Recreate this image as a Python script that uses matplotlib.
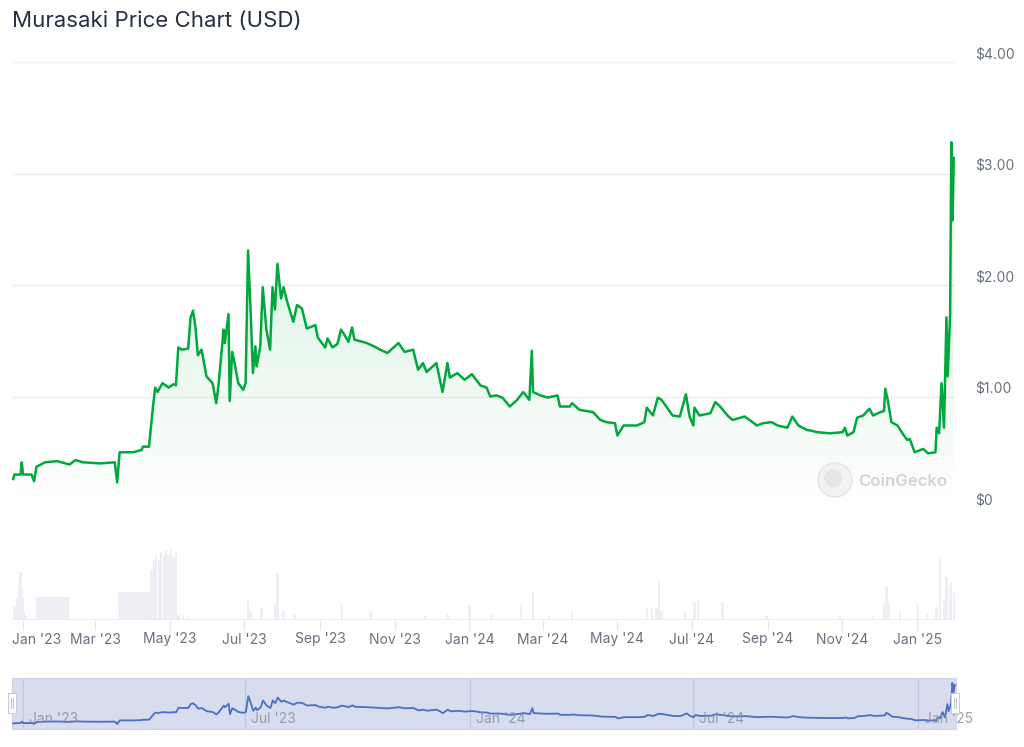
import matplotlib
matplotlib.use("Agg")
import matplotlib.pyplot as plt
import matplotlib.dates as mdates
from matplotlib.patches import Rectangle, Ellipse
from matplotlib.lines import Line2D
from matplotlib.transforms import ScaledTranslation, blended_transform_factory
import numpy as np

plt.rcParams["font.family"] = ["Inter", "DejaVu Sans"]

START = np.datetime64("2023-01-01")

# price (days since 2023-01-01, USD)
price_days = [
    -8, -7, -2, -1, 0, 7, 9, 11, 18, 28, 38, 43, 49, 63, 75, 77, 79, 90, 97, 98,
    103, 106, 108, 110, 114, 119, 123, 125, 127, 130, 135, 137, 139, 141, 143, 146,
    150, 155, 158, 160, 164, 165, 168, 169, 171, 173, 176, 180, 182, 184, 186, 188,
    190, 191, 194, 196, 199, 202, 204, 206, 208, 211, 213, 216, 221, 224, 228, 232,
    239, 241, 247, 249, 253, 257, 260, 263, 266, 269, 271, 281, 287, 292, 298, 303,
    307, 312, 319, 323, 327, 330, 338, 343, 347, 349, 355, 361, 367, 374, 379, 382,
    387, 392, 398, 404, 409, 414, 416, 417, 423, 429, 437, 439, 447, 449, 455, 466,
    472, 477, 484, 486, 491, 502, 508, 510, 515, 519, 522, 526, 531, 537, 542, 545,
    548, 549, 553, 562, 566, 570, 576, 580, 590, 594, 600, 605, 612, 617, 625, 629,
    634, 641, 646, 649, 660, 670, 672, 674, 679, 682, 687, 692, 695, 701, 704, 705,
    707, 710, 715, 719, 723, 725, 729, 736, 740, 746, 747, 749, 751, 753, 755, 756,
    758, 759, 760, 761,
]
prices = [
    0.26, 0.30, 0.30, 0.41, 0.30, 0.30, 0.24, 0.37, 0.41, 0.42, 0.39, 0.43, 0.41, 0.40, 0.41, 0.23, 0.50, 0.50, 0.52, 0.55,
    0.55, 0.88, 1.08, 1.04, 1.12, 1.08, 1.11, 1.10, 1.44, 1.42, 1.43, 1.71, 1.77, 1.62, 1.37, 1.42,
    1.18, 1.12, 0.94, 1.12, 1.60, 1.48, 1.74, 0.96, 1.40, 1.30, 1.12, 1.06, 1.12, 2.31, 1.80, 1.21,
    1.45, 1.27, 1.45, 1.98, 1.60, 1.42, 1.98, 1.78, 2.19, 1.88, 1.98, 1.85, 1.67, 1.82, 1.79, 1.61,
    1.64, 1.53, 1.44, 1.52, 1.44, 1.47, 1.60, 1.55, 1.49, 1.62, 1.51, 1.48, 1.45, 1.42, 1.39, 1.44,
    1.48, 1.40, 1.42, 1.24, 1.30, 1.22, 1.30, 1.04, 1.30, 1.17, 1.21, 1.15, 1.20, 1.10, 1.08, 1.00,
    1.01, 0.99, 0.91, 0.97, 1.04, 0.97, 1.41, 1.04, 1.01, 0.99, 1.01, 0.91, 0.91, 0.94, 0.88, 0.86,
    0.79, 0.77, 0.76, 0.65, 0.74, 0.74, 0.77, 0.90, 0.83, 0.99, 0.97, 0.91, 0.83, 0.82, 1.02, 0.82,
    0.74, 0.90, 0.83, 0.85, 0.95, 0.91, 0.83, 0.79, 0.82, 0.79, 0.74, 0.76, 0.77, 0.74, 0.72, 0.82,
    0.74, 0.70, 0.69, 0.68, 0.67, 0.68, 0.72, 0.65, 0.68, 0.81, 0.83, 0.89, 0.83, 0.86, 0.87, 1.07,
    0.97, 0.77, 0.74, 0.67, 0.61, 0.62, 0.50, 0.53, 0.49, 0.50, 0.72, 0.67, 1.12, 0.72, 1.71, 1.18,
    1.73, 3.28, 2.58, 3.14,
]

# volume (relative height), single bars
vol_days = [
    -7, -5, -3, -2, -1, 0, 1, 2,
    105, 107, 109, 111, 113, 115, 117, 119, 121, 123, 125, 127, 131, 135,
    184, 186, 195, 206, 208, 213, 222, 261, 284, 329, 347, 365, 383,
    407, 417, 430, 449, 510, 514, 518, 520, 522, 541, 549, 552, 572, 608,
    668, 695, 704, 706, 708, 717, 732, 739, 747, 750, 753, 755, 758, 759, 761,
]
vol_vals = [
    0.20, 0.30, 0.50, 0.67, 0.45, 0.30, 0.12, 0.05,
    0.70, 0.83, 0.90, 0.83, 0.95, 0.90, 0.97, 0.90, 0.97, 0.88, 0.95, 0.07, 0.05, 0.04,
    0.28, 0.12, 0.16, 0.22, 0.65, 0.12, 0.07, 0.21, 0.12, 0.05, 0.09, 0.21, 0.07,
    0.21, 0.39, 0.07, 0.12, 0.16, 0.16, 0.16, 0.53, 0.12, 0.12, 0.25, 0.28, 0.25, 0.05,
    0.05, 0.05, 0.23, 0.46, 0.23, 0.12, 0.21, 0.09, 0.18, 0.88, 0.28, 0.60, 0.46, 0.53, 0.37,
]
# flat volume blocks
vol_block_start = [11, 78]
vol_block_end = [38, 104]
vol_block_vals = [0.32, 0.39]

tick_dates = ["2023-01-01", "2023-03-01", "2023-05-01", "2023-07-01", "2023-09-01",
              "2023-11-01", "2024-01-01", "2024-03-01", "2024-05-01", "2024-07-01",
              "2024-09-01", "2024-11-01", "2025-01-01"]
tick_labels = ["Jan '23", "Mar '23", "May '23", "Jul '23", "Sep '23", "Nov '23",
               "Jan '24", "Mar '24", "May '24", "Jul '24", "Sep '24", "Nov '24", "Jan '25"]
nav_dates = ["2023-01-01", "2023-07-01", "2024-01-01", "2024-07-01", "2025-01-01"]
nav_labels = ["Jan '23", "Jul '23", "Jan '24", "Jul '24", "Jan '25"]
y_ticks = [0, 1, 2, 3, 4]
y_labels = ["$0", "$1.00", "$2.00", "$3.00", "$4.00"]

GREEN = "#00a83e"
GRID = "#eceef2"
LABEL = "#68707f"
VOL = "#edeff4"
W, H = 1024, 747


def days_to_dates(d):
    return START + np.array(d).astype("timedelta64[D]")


dates = days_to_dates(price_days)
x0 = START - np.timedelta64(9, "D")
x1 = START + np.timedelta64(762, "D")

fig = plt.figure(figsize=(W / 100, H / 100), dpi=100)
fig.patch.set_facecolor("white")

ax = fig.add_axes([12 / W, 1 - 508 / H, 943 / W, 446 / H])
ax_vol = fig.add_axes([12 / W, 1 - 620 / H, 943 / W, 72 / H])
ax_nav = fig.add_axes([12 / W, 1 - 729 / H, 944 / W, 51 / H])

# ---- main price chart
for v in y_ticks:
    ax.axhline(v, color=GRID, lw=1, zorder=0)

ax.plot(dates, prices, color=GREEN, lw=1.8, zorder=4, solid_joinstyle="round")
poly = ax.fill_between(dates, prices, 0, facecolor="none", edgecolor="none")

grad = np.zeros((256, 1, 4))
grad[:, :, :3] = matplotlib.colors.to_rgb(GREEN)
grad[:, 0, 3] = np.linspace(0.0, 0.24, 256)
x0n, x1n = mdates.date2num(x0), mdates.date2num(x1)
im = ax.imshow(grad, extent=[x0n, x1n, 0, 4], aspect="auto", origin="lower", zorder=1)
im.set_clip_path(poly.get_paths()[0], transform=ax.transData)

ax.set_xlim(x0, x1)
ax.set_ylim(0, 4)
for s in ax.spines.values():
    s.set_visible(False)
ax.set_xticks([])
ax.set_yticks([])

ytr = blended_transform_factory(ax.transAxes, ax.transData)
for v, lab in zip(y_ticks, y_labels):
    ax.annotate(lab, xy=(1, v), xycoords=ytr, xytext=(14.4, 5.5), textcoords="offset points",
                ha="left", va="center", fontsize=10, color=LABEL)

# watermark
fig.add_artist(Ellipse((835 / W, 1 - 480 / H), 34 / W, 34 / H, transform=fig.transFigure,
                       facecolor="#f3f3f3", edgecolor="#e4e4e4", lw=1, zorder=5))
fig.add_artist(Ellipse((833 / W, 1 - 478 / H), 18 / W, 18 / H, transform=fig.transFigure,
                       facecolor="#e6e6e6", edgecolor="none", zorder=6))
fig.text(858 / W, 1 - 481 / H, "CoinGecko", fontsize=12, color="#d3d3d3",
         fontweight="semibold", va="center", ha="left")

# ---- volume
ax_vol.bar(days_to_dates(vol_days), vol_vals, width=1.9, color=VOL, linewidth=0)
for s0, s1, v in zip(vol_block_start, vol_block_end, vol_block_vals):
    ax_vol.bar(days_to_dates([s0])[0], v, width=s1 - s0, align="edge", color=VOL, linewidth=0)
ax_vol.set_xlim(x0, x1)
ax_vol.set_ylim(0, 1)
for s in ax_vol.spines.values():
    s.set_visible(False)
ax_vol.axhline(0, color="#e8eaee", lw=1.2)
ax_vol.set_yticks([])
ax_vol.set_xticks(np.array(tick_dates, dtype="datetime64[D]"))
ax_vol.set_xticklabels(tick_labels)
ax_vol.tick_params(axis="x", length=7, width=1, color="#e6e8ec", pad=2, labelsize=10, labelcolor=LABEL)
first = ax_vol.get_xticklabels()[0]
first.set_transform(first.get_transform() + ScaledTranslation(0.14, 0, fig.dpi_scale_trans))

# ---- navigator
ax_nav.set_facecolor("#d7ddef")
ax_nav.plot(dates, prices, color="#4a6fc3", lw=1.3, zorder=3)
ax_nav.set_xlim(x0, x1)
ax_nav.set_ylim(-0.14, 3.65)
for s in ax_nav.spines.values():
    s.set_color("#cdd3e4")
    s.set_linewidth(0.8)
ax_nav.set_xticks([])
ax_nav.set_yticks([])
ntr = blended_transform_factory(ax_nav.transData, ax_nav.transAxes)
for d, lab in zip(np.array(nav_dates, dtype="datetime64[D]"), nav_labels):
    ax_nav.axvline(d, color="#bfc7db", lw=0.8, zorder=1)
    ax_nav.annotate(lab, xy=(d, 0.2), xycoords=ntr, xytext=(4.5, 0), textcoords="offset points",
                    ha="left", va="center", fontsize=10, color="#8a909b", alpha=0.85,
                    zorder=4, annotation_clip=False)

for hx in (12, 955):
    fig.add_artist(Rectangle(((hx - 4) / W, 1 - 713 / H), 8 / W, 20 / H, transform=fig.transFigure,
                             facecolor="white", edgecolor="#c9ccd3", lw=0.8, zorder=10))
    for dx in (-1.2, 1.2):
        fig.add_artist(Line2D([(hx + dx) / W] * 2, [1 - 708 / H, 1 - 698 / H],
                              transform=fig.transFigure, color="#b8bcc5", lw=0.7, zorder=11))

# ---- title
fig.text(12 / W, 1 - 21 / H, "Murasaki Price Chart (USD)", fontsize=16, color="#273043",
         ha="left", va="center")

fig.savefig("out.png", dpi=100, facecolor="white")
